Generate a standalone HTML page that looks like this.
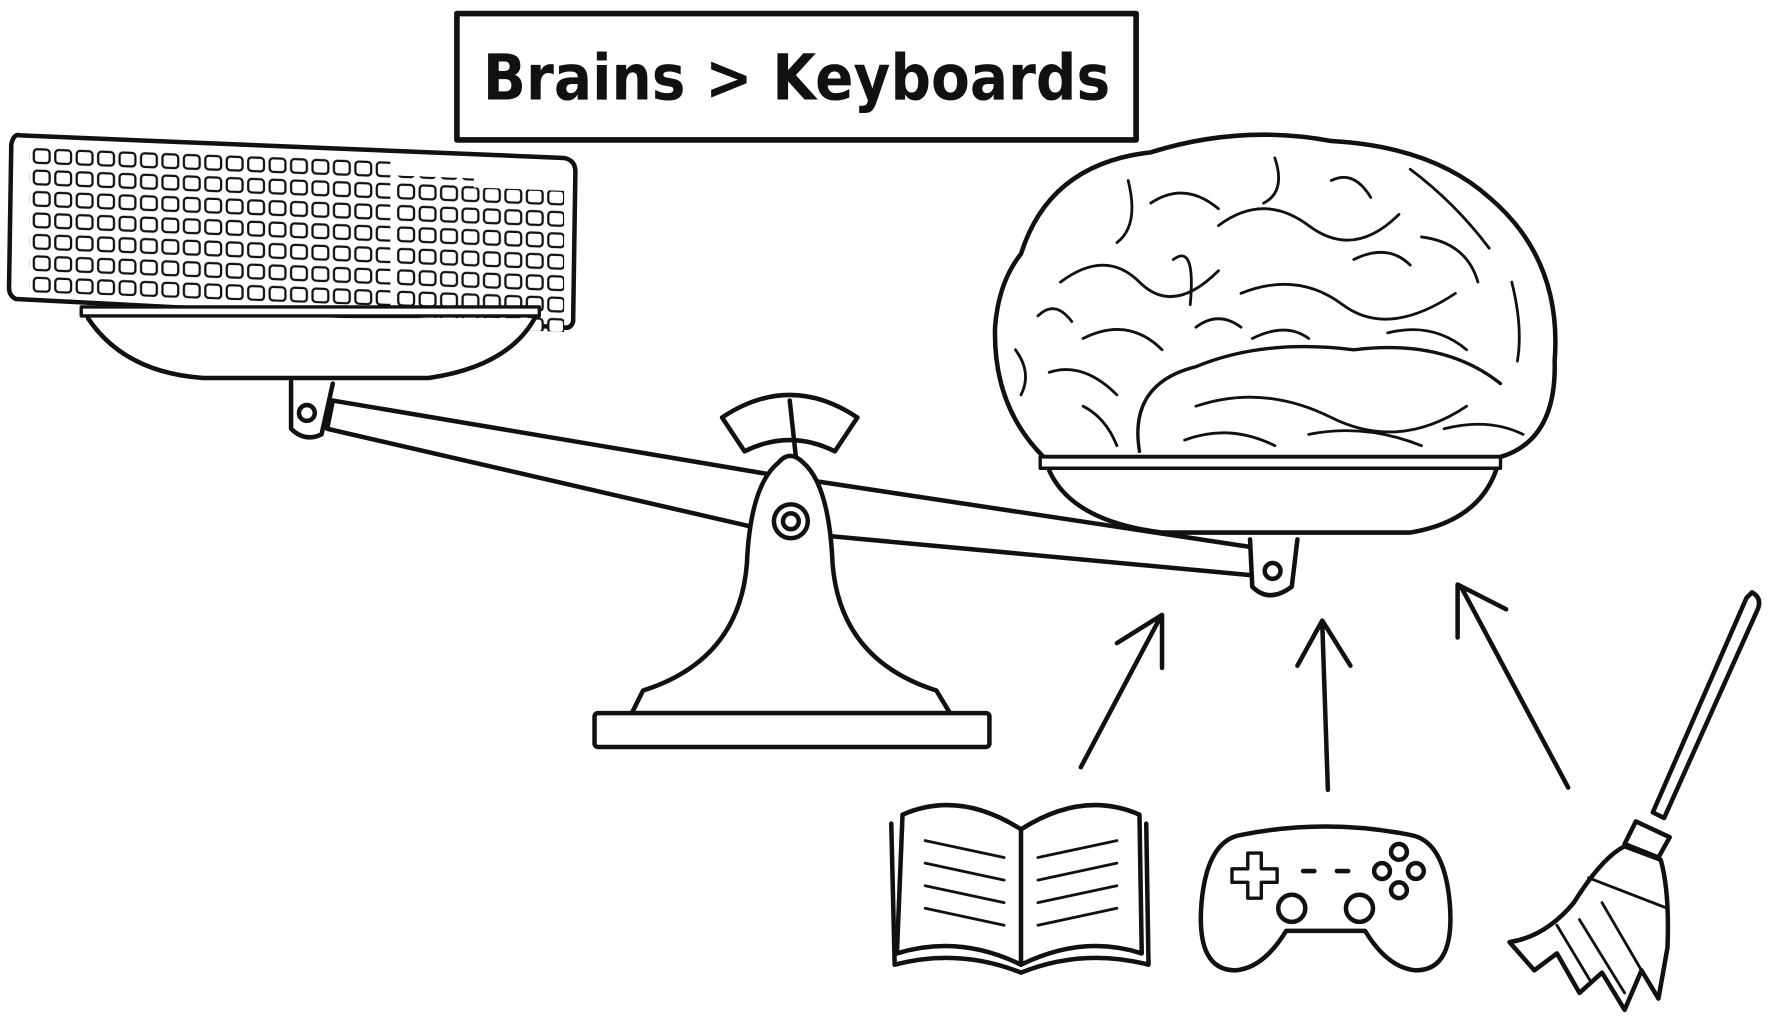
<!DOCTYPE html>
<html><head><meta charset="utf-8"><style>html,body{margin:0;padding:0;background:#fff}svg{display:block}</style></head>
<body>
<svg width="1769" height="1020" viewBox="0 0 1568 904" preserveAspectRatio="none" xmlns="http://www.w3.org/2000/svg">
<defs>
<pattern id="keys" x="28" y="128" width="19" height="19" patternUnits="userSpaceOnUse">
<rect x="2" y="3" width="14" height="12" rx="3" fill="#fff" stroke="#111" stroke-width="2"/>
</pattern>
</defs>
<g fill="none" stroke="#111" stroke-width="4" stroke-linecap="round" stroke-linejoin="round">
<rect x="405" y="12" width="602" height="112" stroke-width="5"/>
<path d="M18 120 L500 140 Q510 142 510 152 L508 285 Q506 292 498 290 L14 265 Q8 262 8 255 L10 128 Q12 118 18 120Z" fill="#fff"/>
<rect x="26" y="128" width="320" height="130" fill="url(#keys)" stroke="none" transform="skewY(2.2)"/>
<rect x="350" y="142" width="70" height="125" fill="url(#keys)" stroke="none" transform="skewY(2.2)"/>
<rect x="420" y="150" width="80" height="125" fill="url(#keys)" stroke="none" transform="skewY(2.2)"/>
<path d="M72 272 L478 272 L478 280 L72 280Z" fill="#fff" stroke-width="3"/>
<path d="M78 282 Q110 330 180 335 L380 335 Q450 325 474 282" fill="#fff"/>
<path d="M258 338 L258 380 Q270 392 285 385 L295 340" fill="#fff"/>
<circle cx="272" cy="366" r="7"/>
<path d="M295 355 L680 420 L1110 485 L1112 510 L680 470 L290 380Z" fill="#fff"/>
<path d="M640 370 Q700 330 760 370 L740 400 Q700 380 660 400Z" fill="#fff"/>
<path d="M700 355 L706 410"/>
<path d="M690 410 Q700 398 712 410 Q735 430 738 500 Q745 585 830 612 L842 632 L560 632 L570 612 Q655 585 662 500 Q665 430 690 410Z" fill="#fff"/>
<circle cx="701" cy="462" r="15"/><circle cx="701" cy="462" r="7"/>
<rect x="527" y="632" width="350" height="30" rx="3" fill="#fff"/>
<path d="M905 225 Q930 145 1020 135 Q1100 110 1180 125 Q1270 130 1320 175 Q1385 230 1378 320 Q1380 390 1330 405 L925 405 Q880 360 882 290 Q885 250 905 225Z" fill="#fff"/>
<path d="M1010 400 Q1000 340 1060 325 Q1120 300 1200 310 Q1280 300 1330 340" stroke-width="3"/>
<g stroke-width="2.5">
<path d="M940 250 Q980 220 1010 250 T1080 240 M960 300 Q1000 280 1030 310 M1080 200 Q1120 170 1160 200 T1240 190 M1100 260 Q1150 240 1190 270 T1290 260 M1020 180 Q1050 160 1080 185 M1250 150 Q1290 180 1320 220 M1060 360 Q1120 340 1180 370 T1300 360 M930 330 Q960 320 990 350"/>
<path d="M920 280 Q935 265 950 285 M1000 160 Q1010 200 990 215 M1040 230 Q1060 215 1055 270 M1130 140 Q1140 170 1120 180 M1180 160 Q1200 150 1215 175 M1260 210 Q1300 215 1310 250 M1340 250 Q1350 290 1345 320 M1200 230 Q1230 215 1250 235 M1110 300 Q1140 285 1160 300 M1230 295 Q1270 285 1300 310 M1050 390 Q1090 375 1130 395 M1160 385 Q1210 375 1260 395 M1280 380 Q1320 370 1350 385 M900 310 Q915 330 905 350 M960 360 Q980 370 990 395 M1060 290 Q1080 275 1100 290"/>
</g>
<path d="M922 405 L1330 405 L1330 415 L922 415Z" fill="#fff" stroke-width="3"/>
<path d="M930 417 Q950 462 1030 472 L1250 472 Q1310 462 1326 417" fill="#fff"/>
<path d="M1108 478 L1110 520 Q1125 535 1145 520 L1150 478" fill="#fff"/>
<circle cx="1128" cy="506" r="7"/>
<path d="M958 680 L1028 548 M990 570 L1030 545 L1030 592"/>
<path d="M1177 700 L1172 552 M1150 590 L1172 550 L1197 590"/>
<path d="M1390 698 L1295 520 M1292 565 L1292 518 L1335 540"/>
<path d="M800 722 Q850 700 905 735 Q960 700 1010 722 L1012 845 Q960 828 905 855 Q850 828 795 845Z" fill="#fff"/>
<path d="M905 735 L905 855 M790 730 L793 855 Q850 840 905 862 Q960 840 1018 855 L1016 730"/>
<path d="M820 745 L890 760 M820 765 L890 780 M820 785 L890 800 M820 805 L890 820 M920 760 L990 745 M920 780 L990 765 M920 800 L990 785 M920 820 L990 805" stroke-width="2.5"/>
<path d="M1100 740 Q1175 725 1250 740 Q1280 745 1285 800 Q1290 860 1255 860 Q1230 858 1210 825 L1140 825 Q1120 858 1095 860 Q1060 860 1065 800 Q1070 745 1100 740Z" fill="#fff"/>
<path d="M1092 770 h14 v-14 h12 v14 h14 v12 h-14 v14 h-12 v-14 h-14Z" stroke-width="3"/>
<circle cx="1240" cy="755" r="7"/><circle cx="1225" cy="772" r="7"/><circle cx="1255" cy="772" r="7"/><circle cx="1240" cy="789" r="7"/>
<circle cx="1145" cy="805" r="12"/><circle cx="1205" cy="805" r="12"/>
<path d="M1155 772 h10 M1185 772 h10"/>
<path d="M1553 525 Q1562 530 1558 540 L1475 725 L1465 720 L1548 530Z" fill="#fff"/>
<path d="M1450 728 L1480 742 L1470 760 L1440 748Z" fill="#fff"/>
<path d="M1440 750 Q1420 760 1395 800 Q1370 830 1338 835 L1360 860 L1380 845 L1400 880 L1420 862 L1440 895 L1455 860 L1470 885 L1478 840 Q1480 790 1472 762Z" fill="#fff"/>
<path d="M1408 778 L1478 805 M1400 815 L1440 880 M1420 800 L1455 860 M1380 820 L1410 870" stroke-width="2.5"/>
</g>
<text x="428" y="88" textLength="556" lengthAdjust="spacingAndGlyphs" font-family="'DejaVu Sans','Liberation Sans',sans-serif" font-size="56" fill="#111" font-weight="bold">Brains &gt; Keyboards</text>
</svg>
</body></html>
